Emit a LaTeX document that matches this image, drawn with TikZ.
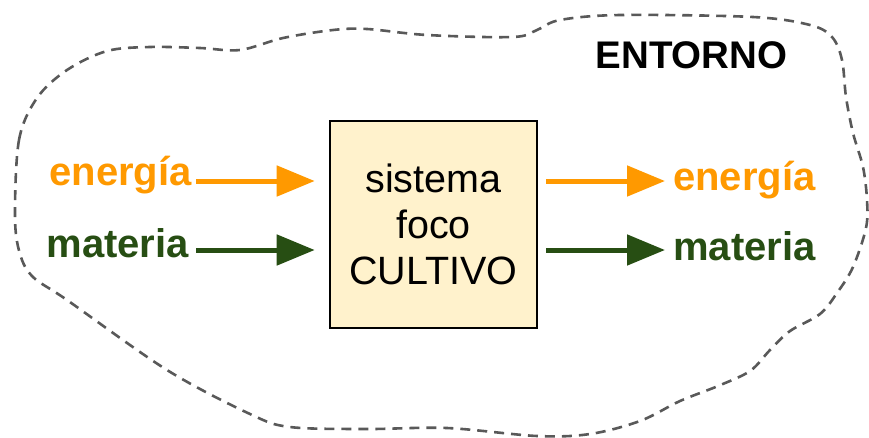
\documentclass[tikz,border=0pt]{standalone}
\usepackage{fontspec}
\setmainfont{Liberation Sans}
\usetikzlibrary{arrows.meta}
\definecolor{orangeC}{HTML}{FF9900}
\definecolor{greenC}{HTML}{274E13}
\definecolor{boxfill}{HTML}{FFF2CC}
\definecolor{blobgray}{HTML}{595959}
\tikzset{
  flowlabel/.style={inner sep=0pt, font=\fontsize{40}{46}\selectfont\bfseries},
  flowarrow/.style={line width=5pt, -{Triangle[length=38pt,width=30pt]}},
  focobox/.style={draw=black, line width=2.6pt, fill=boxfill, minimum width=207pt, minimum height=207pt, align=center, inner sep=0pt, font=\fontsize{39.5}{46}\selectfont},
  blob/.style={draw=blobgray, line width=2.6pt, dash pattern=on 10pt off 7pt}
}
\begin{document}
\begin{tikzpicture}[x=1pt,y=-1pt]
\useasboundingbox (0,0) rectangle (869,437);
% environment outline
\draw[blob] plot[smooth cycle, tension=0.55] coordinates {
 (15,217) (19,140) (37,98) (67,70) (107,51) (150,47) (200,48) (240,50)
 (283,38) (333,30) (367,29) (427,35) (513,37) (537,30) (560,20) (620,15)
 (753,17) (810,25) (832,37) (842,60) (846,97) (853,133) (863,167) (867,200)
 (866,228) (853,267) (837,293) (820,314) (790,331) (770,350) (750,371)
 (718,386) (680,401) (640,421) (590,434) (537,436) (447,428) (367,429)
 (290,427) (250,414) (167,370) (67,300) (33,277) (20,254)};
\node[flowlabel, anchor=base, font=\fontsize{38.5}{46}\selectfont\bfseries] (entorno) at (691.5,68) {ENTORNO};
% focus system
\node[focobox] (foco) at (433.5,224.5) {sistema\\foco\\CULTIVO};
% inputs
\node[flowlabel, text=orangeC, anchor=base east] (eIn) at (192,185) {energía};
\node[flowlabel, text=greenC, anchor=base east] (mIn) at (189,257) {materia};
% outputs
\node[flowlabel, text=orangeC, anchor=base west] (eOut) at (673,190) {energía};
\node[flowlabel, text=greenC, anchor=base west] (mOut) at (673,260) {materia};
% arrows
\draw[flowarrow, orangeC, shorten >=14pt] (196,181) coordinate (eInS) -- (foco.west |- eInS);
\draw[flowarrow, greenC, shorten >=14pt] (196,250) coordinate (mInS) -- (foco.west |- mInS);
\draw[flowarrow, orangeC, shorten <=8pt] (foco.east |- 0,181) -- (665,181) coordinate (eOutE);
\draw[flowarrow, greenC, shorten <=8pt] (foco.east |- 0,250) -- (665,250) coordinate (mOutE);
\end{tikzpicture}
\end{document}
